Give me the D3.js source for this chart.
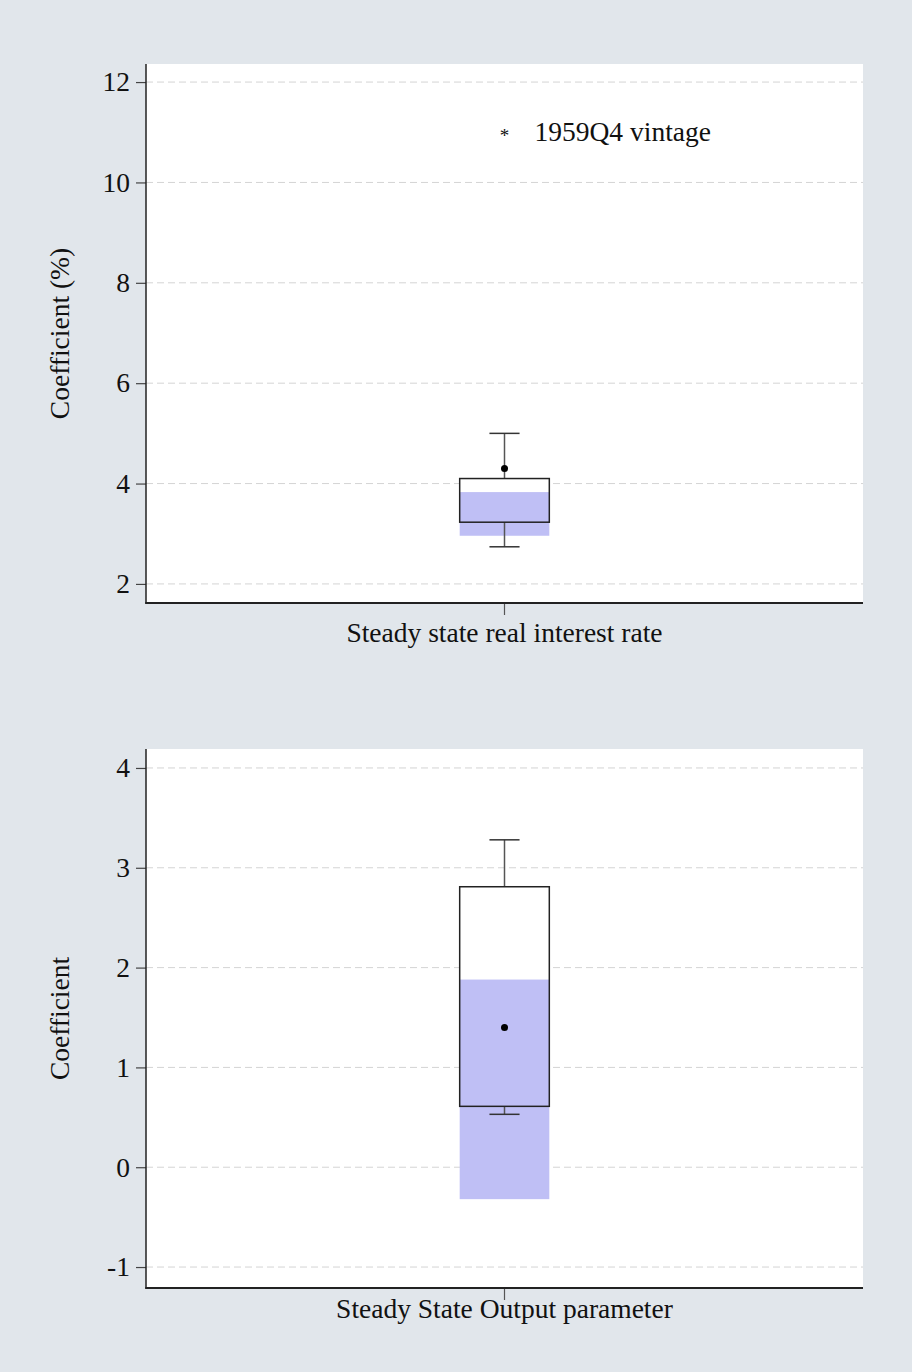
<!DOCTYPE html>
<html>
<head>
<meta charset="utf-8">
<script src="https://cdn.jsdelivr.net/npm/d3@7/dist/d3.min.js"></script>
<style>
  html, body { margin: 0; padding: 0; background: #e1e6eb; }
  svg { display: block; }
  text { font-family: "Liberation Serif", "Times New Roman", serif; fill: #111; }
</style>
</head>
<body>
<svg id="chart" width="912" height="1372"></svg>
<script>
// ---- data ----
const categories = ["Steady state real interest rate", "Steady State Output parameter"];
const yTitles = ["Coefficient (%)", "Coefficient"];
const boxLow = [3.23, 0.61];
const boxHigh = [4.10, 2.81];
const whiskerLow = [2.74, 0.53];
const whiskerHigh = [5.00, 3.28];
const bandLow = [2.96, -0.32];
const bandHigh = [3.83, 1.88];
const pointEst = [4.30, 1.40];
const yTicks = [[2, 4, 6, 8, 10, 12], [-1, 0, 1, 2, 3, 4]];
const yDomains = [[1.62, 12.36], [-1.21, 4.19]];
const legendLabel = "1959Q4 vintage";
const legendValue = 11;

// ---- layout ----
const svg = d3.select("#chart");
const W = 912, H = 1372;
svg.append("rect").attr("width", W).attr("height", H).attr("fill", "#e1e6eb");

const panels = [
  { top: 64, bottom: 603, labelGap: 39 },
  { top: 749, bottom: 1288, labelGap: 30 }
];
const left = 146, right = 863;
const FS = 27.5;

panels.forEach((p, i) => {
  const g = svg.append("g");
  const x = d3.scaleBand().domain([categories[i]]).range([left, right]).paddingInner(0).paddingOuter(0);
  const y = d3.scaleLinear().domain(yDomains[i]).range([p.bottom, p.top]);
  const cx = x(categories[i]) + x.bandwidth() / 2;
  const bw = x.bandwidth() * 0.125;
  const capW = x.bandwidth() * 0.042;

  // plot background
  g.append("rect").attr("x", left).attr("y", p.top)
    .attr("width", right - left).attr("height", p.bottom - p.top).attr("fill", "#fff");

  // gridlines
  g.selectAll(".grid").data(yTicks[i]).join("line")
    .attr("x1", left).attr("x2", right)
    .attr("y1", d => y(d)).attr("y2", d => y(d))
    .attr("stroke", "#d4d4d4").attr("stroke-width", 1).attr("stroke-dasharray", "7,4");

  // y axis
  const yAxis = d3.axisLeft(y).tickValues(yTicks[i]).tickSize(10).tickPadding(6)
    .tickFormat(d => d < 0 ? "-" + Math.abs(d) : String(d));
  const ya = g.append("g").attr("transform", `translate(${left},0)`).call(yAxis);
  ya.select(".domain").remove();
  ya.selectAll(".tick line").attr("stroke", "#444").attr("stroke-width", 1.2);
  ya.selectAll(".tick text").style("font-family", '"Liberation Serif", serif')
    .style("font-size", FS + "px").attr("fill", "#111");
  g.append("line").attr("x1", left).attr("x2", left).attr("y1", p.top).attr("y2", p.bottom + 0.75)
    .attr("stroke", "#222").attr("stroke-width", 1.5);

  // x axis
  const xAxis = d3.axisBottom(x).tickSize(12).tickFormat("");
  const xa = g.append("g").attr("transform", `translate(0,${p.bottom})`).call(xAxis);
  xa.select(".domain").remove();
  xa.selectAll(".tick line").attr("stroke", "#555").attr("stroke-width", 1.2);
  g.append("line").attr("x1", left - 0.75).attr("x2", right).attr("y1", p.bottom).attr("y2", p.bottom)
    .attr("stroke", "#222").attr("stroke-width", 2);
  g.append("text").attr("x", cx).attr("y", p.bottom + p.labelGap)
    .attr("text-anchor", "middle").style("font-size", FS + "px").text(categories[i]);

  // y title
  g.append("text")
    .attr("transform", `translate(${69},${(p.top + p.bottom) / 2}) rotate(-90)`)
    .attr("text-anchor", "middle").style("font-size", FS + "px").text(yTitles[i]);

  // box white fill
  g.append("rect").attr("x", cx - bw / 2).attr("width", bw)
    .attr("y", y(boxHigh[i])).attr("height", y(boxLow[i]) - y(boxHigh[i]))
    .attr("fill", "#fff");
  // shaded band
  g.append("rect").attr("x", cx - bw / 2).attr("width", bw)
    .attr("y", y(bandHigh[i])).attr("height", y(bandLow[i]) - y(bandHigh[i]))
    .attr("fill", "#bfbff5");
  // whiskers
  const wc = "#555";
  g.append("line").attr("x1", cx).attr("x2", cx).attr("y1", y(boxHigh[i])).attr("y2", y(whiskerHigh[i]))
    .attr("stroke", wc).attr("stroke-width", 1.5);
  g.append("line").attr("x1", cx).attr("x2", cx).attr("y1", y(boxLow[i])).attr("y2", y(whiskerLow[i]))
    .attr("stroke", wc).attr("stroke-width", 1.5);
  [whiskerHigh[i], whiskerLow[i]].forEach(v => {
    g.append("line").attr("x1", cx - capW / 2).attr("x2", cx + capW / 2)
      .attr("y1", y(v)).attr("y2", y(v)).attr("stroke", "#333").attr("stroke-width", 1.5);
  });
  // box outline
  g.append("rect").attr("x", cx - bw / 2).attr("width", bw)
    .attr("y", y(boxHigh[i])).attr("height", y(boxLow[i]) - y(boxHigh[i]))
    .attr("fill", "none").attr("stroke", "#222").attr("stroke-width", 1.5);
  // point estimate
  g.append("circle").attr("cx", cx).attr("cy", y(pointEst[i])).attr("r", 3.5).attr("fill", "#000");

  if (i === 0) {
    g.append("text").attr("x", cx).attr("y", y(legendValue) + 10)
      .attr("text-anchor", "middle").style("font-size", "19px").text("*");
    g.append("text").attr("x", cx + 30).attr("y", y(legendValue) + 9)
      .style("font-size", FS + "px").text(legendLabel);
  }
});
</script>
</body>
</html>
